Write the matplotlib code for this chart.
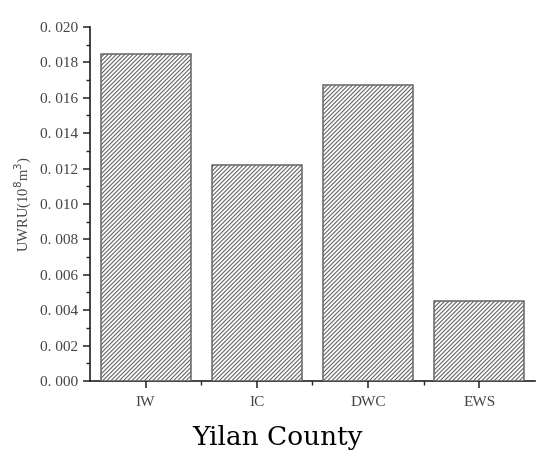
import matplotlib
matplotlib.use('Agg')
import matplotlib.pyplot as plt
from matplotlib.ticker import MultipleLocator, FuncFormatter, FixedLocator
import numpy as np

# ── Data ───────────────────────────────────────────────────────────
categories = ['IW', 'IC', 'DWC', 'EWS']
uwru       = [0.0185, 0.0122, 0.0167, 0.0045]

# ── Style ──────────────────────────────────────────────────────────
plt.rcParams['hatch.color'] = '#adadad'
plt.rcParams['hatch.linewidth'] = 0.8
TICK_FONT = 'Liberation Serif'
TXT = '#444444'

fig = plt.figure(figsize=(5.5, 4.72), dpi=100, facecolor='white')
ax = fig.add_axes([0.1636, 0.1928, 0.8091, 0.75])

x = np.arange(len(categories))
ax.bar(x, uwru, width=0.81, color='white', edgecolor='#666666',
       linewidth=1.1, hatch='////////', zorder=3)

ax.set_xlim(-0.5, 3.5)
ax.set_ylim(0, 0.020)

# ── Axes & ticks ───────────────────────────────────────────────────
for s in ['top', 'right']:
    ax.spines[s].set_visible(False)
for s in ['left', 'bottom']:
    ax.spines[s].set_linewidth(1.2)
    ax.spines[s].set_color('#222222')

ax.yaxis.set_major_locator(MultipleLocator(0.002))
ax.yaxis.set_minor_locator(MultipleLocator(0.001))
ax.yaxis.set_major_formatter(FuncFormatter(lambda v, p: f'{v:.3f}'.replace('.', '. ')))
ax.set_xticks(x)
ax.set_xticklabels(categories)
ax.xaxis.set_minor_locator(FixedLocator([0.5, 1.5, 2.5]))

ax.tick_params(axis='both', which='major', direction='out', length=5,
               width=1.1, color='#222222', labelcolor=TXT, labelsize=11)
ax.tick_params(axis='both', which='minor', direction='out', length=3,
               width=1.0, color='#222222')
ax.tick_params(axis='x', pad=6)
for lbl in ax.get_xticklabels() + ax.get_yticklabels():
    lbl.set_fontfamily(TICK_FONT)

ax.set_ylabel('UWRU(10$^{8}$m$^{3}$)', fontsize=10.5, color=TXT,
              fontfamily=TICK_FONT, labelpad=4)

# ── Caption ────────────────────────────────────────────────────────
fig.text(0.505, 0.073, 'Yilan County', ha='center', va='center',
         fontsize=19, fontfamily='DejaVu Serif', color='black')

fig.savefig('out.png', dpi=100, facecolor='white')
